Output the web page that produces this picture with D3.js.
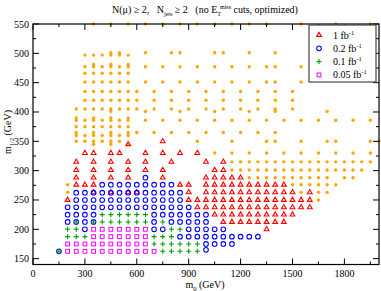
<!DOCTYPE html>
<html>
<head>
<meta charset="utf-8">
<script src="https://cdn.jsdelivr.net/npm/d3@7"></script>
<style>
  body { margin: 0; background: #fff; }
  svg text { font-family: "Liberation Serif", "Times New Roman", serif; fill: #000; }
</style>
</head>
<body>
<script>
// reach in the (m0, m1/2) plane, one list of m0 values per m1/2 row
const noReach = [
  [550, [350,450,550,650,750,850,950,1050,1150,1250,1350,1550,1750,1950]],
  [501, [450,500,650,800,850,1050,1100,1250,1400]],
  [497, [300,350,400,450,500,550]],
  [481, [350,450,550]],
  [477, [300,350,400,450,500,550,650,750,850,950,1050,1150,1250,1350,1400,1550]],
  [466, [300,350,400,450,500,550]],
  [451, [300,350,400,450,500,550,650,750,850,950,1050,1150,1250,1350,1400,1550]],
  [435, [300,350,400,450,500,550,600,700,800,900,1000,1100,1200,1300,1400,1500]],
  [420, [300,350,400,450,500,550,600,700,800,900,1000,1100,1200,1300,1400,1500]],
  [405, [250,300,350,400,450,500,550,600,700,800,900,1000,1100,1200,1300,1400,1500]],
  [401, [450,650,850,1050,1250,1400,1700]],
  [390, [250,350,450,550]],
  [386, [250,300,350,400,450,500,550,650,750,850,950,1050,1150,1250,1350,1450,1550,1650,1750,1850,1950]],
  [375, [250,300,350,400,450,500,550]],
  [365, [250,350,450,550,600,700,800,900,1000,1100,1200,1300,1400]],
  [360, [250,300,350,400,450,500,550]],
  [350, [250,300,350,400,450,500,950,1150,1350,1400,1550,1700,1750,1950,2000]],
  [345, [350,450,550]],
  [330, [1050,1150,1250,1350,1450,1550,1650,1750,1850,1950]],
  [315, [1150,1200,1250,1300,1350,1400,1450,1500,1550,1600,1650,1700,1750,1800,1850,1900,1950]],
  [301, [1150,1200,1250,1300,1350,1400,1450,1500,1550,1600,1650,1700,1750,1800,1850,1900]],
  [288, [1250,1300,1350,1400,1450,1500,1550,1600,1650,1700,1800,1850]],
  [276, [200,1500,1550,1600,1650,1700,1750]],
  [263, [200,1550,1650,1700]],
  [250, [1650]]
];

const lum1 = [
  [350, [750]],
  [345, [550]],
  [330, [300,350,450,500,650,750,850,950]],
  [315, [250,350,450,550,650,800,1000,1100]],
  [301, [250,350,450,550,650,750,1050,1100]],
  [288, [250,350,450,550,750,1000,1050,1100,1150,1200]],
  [276, [250,300,350,850,900,1000,1050,1100,1150,1200,1250,1300,1350,1400,1450]],
  [263, [350,450,550,600,900,1000,1050,1100,1150,1200,1250,1300,1350,1400,1450,1500,1600]],
  [250, [200,900,950,1000,1050,1100,1150,1200,1250,1300,1350,1400,1450,1500,1550,1600]],
  [237.5, [950,1000,1050,1100,1150,1200,1250,1300,1350,1400,1450,1500,1550,1600]],
  [225, [1050,1100,1150,1200,1250,1300,1350,1400,1450,1500]],
  [212.5, [1100,1150,1200,1250,1300,1350,1400,1450]],
  [200, [1350]]
];

const lum02 = [
  [288, [650]],
  [276, [400,450,500,550,600,650,700,750,800]],
  [262.5, [250,300,350,400,450,500,550,600,650,700,750,800,850]],
  [250, [250,300,350,400,450,500,550,600,650,700,750,800,850]],
  [237.5, [200,250,300,350,400,450,500,550,600,650,700,750,800,850,900]],
  [225, [200,250,300,350,700,750,800,850,900,950,1000]],
  [212.5, [200,250,300,350,700,800,850,900,950,1000]],
  [200, [300,700,750,900,950,1000,1050,1100]],
  [187.5, [850,900,950,1000,1050,1100,1150,1200,1250,1300]],
  [175, [1000,1050,1100,1150]],
  [165, [1000]],
  [162.5, [150]]
];

const lum01 = [
  [225, [400,450,500,550,600,650]],
  [212.5, [250,350,400,450,500,550,600,650,750]],
  [200, [200,250,800,850]],
  [187.5, [200,250,300,700,750,800]],
  [175, [700,750,800,850,900,950]],
  [162.5, [150,750,800,850,900,950]]
];

const lum005 = [
  [200, [350,400,450,500,550,600,650]],
  [187.5, [350,400,450,500,550,600,650]],
  [175, [200,250,300,350,400,450,500,550,600,650]],
  [162.5, [200,250,300,350,400,450,500,550,600,650,700]]
];

const xTicks = [0, 300, 600, 900, 1200, 1500, 1800];
const yTicks = [150, 200, 250, 300, 350, 400, 450, 500, 550];
const legendLabels = ["1 fb", "0.2 fb", "0.1 fb", "0.05 fb"];

const width = 381, height = 291;
const svg = d3.select("body").append("svg")
  .attr("width", width).attr("height", height)
  .attr("font-family", "Liberation Serif, serif");

const x = d3.scaleLinear().domain([0, 2000]).range([33, 379]);
const y = d3.scaleLinear().domain([140, 550]).range([264.5, 24]);

const flat = rows => rows.flatMap(([m12, m0s]) => m0s.map(m0 => ({m0, m12})));

// markers
const plot = svg.append("g");

const drawMarker = (sel, kind) => {
  if (kind === "dot") {
    sel.append("circle").attr("r", 1.7).attr("fill", "#ffa500");
  } else if (kind === "tri") {
    sel.append("path").attr("d", d3.symbol(d3.symbolTriangle, 10)())
      .attr("fill", "none").attr("stroke", "#ff0000").attr("stroke-width", 1.1);
  } else if (kind === "circ") {
    sel.append("circle").attr("r", 2.3)
      .attr("fill", "none").attr("stroke", "#0000ff").attr("stroke-width", 1.1);
  } else if (kind === "plus") {
    sel.append("path").attr("d", "M-2.5,0H2.5M0,-2.5V2.5")
      .attr("stroke", "#00a000").attr("stroke-width", 1.1);
  } else {
    sel.append("rect").attr("x", -1.9).attr("y", -1.9).attr("width", 3.8).attr("height", 3.8)
      .attr("fill", "none").attr("stroke", "#ff00ff").attr("stroke-width", 1);
  }
};

[[noReach, "dot"], [lum1, "tri"], [lum02, "circ"], [lum01, "plus"], [lum005, "sq"]]
  .forEach(([rows, kind]) => {
    plot.selectAll(null).data(flat(rows)).enter().append("g")
      .attr("transform", d => `translate(${x(d.m0)},${y(d.m12)})`)
      .each(function() { drawMarker(d3.select(this), kind); });
  });

// frame and ticks (inward, on all four sides)
const xMinor = d3.range(0, 2001, 150).filter(v => v % 300 !== 0);
const yMinor = d3.range(175, 550, 50);

const axes = svg.append("g").attr("stroke", "#000");
const tickLines = (vals, f, len) => vals.forEach(v => f(v, len));

tickLines(xTicks, (v, l) => {
  axes.append("line").attr("x1", x(v)).attr("x2", x(v)).attr("y1", y(140)).attr("y2", y(140) - l);
  axes.append("line").attr("x1", x(v)).attr("x2", x(v)).attr("y1", y(550)).attr("y2", y(550) + l);
}, 6);
tickLines(xMinor, (v, l) => {
  axes.append("line").attr("x1", x(v)).attr("x2", x(v)).attr("y1", y(140)).attr("y2", y(140) - l);
  axes.append("line").attr("x1", x(v)).attr("x2", x(v)).attr("y1", y(550)).attr("y2", y(550) + l);
}, 3);
tickLines(yTicks, (v, l) => {
  axes.append("line").attr("y1", y(v)).attr("y2", y(v)).attr("x1", x(0)).attr("x2", x(0) + l);
  axes.append("line").attr("y1", y(v)).attr("y2", y(v)).attr("x1", x(2000)).attr("x2", x(2000) - l);
}, 6);
tickLines(yMinor, (v, l) => {
  axes.append("line").attr("y1", y(v)).attr("y2", y(v)).attr("x1", x(0)).attr("x2", x(0) + l);
  axes.append("line").attr("y1", y(v)).attr("y2", y(v)).attr("x1", x(2000)).attr("x2", x(2000) - l);
}, 3);
axes.selectAll("line").attr("stroke-width", 1);

svg.append("rect")
  .attr("x", x(0)).attr("y", y(550))
  .attr("width", x(2000) - x(0)).attr("height", y(140) - y(550))
  .attr("fill", "none").attr("stroke", "#000").attr("stroke-width", 1.2);

// tick labels
svg.append("g").selectAll("text").data(xTicks).enter().append("text")
  .attr("x", d => x(d)).attr("y", 277)
  .attr("text-anchor", "middle").attr("font-size", 10)
  .text(d => d);

svg.append("g").selectAll("text").data(yTicks).enter().append("text")
  .attr("x", 29).attr("y", d => y(d) + 3.5)
  .attr("text-anchor", "end").attr("font-size", 10)
  .text(d => d);

// axis titles
const xl = svg.append("text").attr("x", 205).attr("y", 288)
  .attr("text-anchor", "middle").attr("font-size", 10);
xl.append("tspan").text("m");
xl.append("tspan").attr("font-size", 6.5).attr("dy", 2.5).text("0");
xl.append("tspan").attr("dy", -2.5).text(" (GeV)");

const yl = svg.append("text")
  .attr("transform", "translate(11,132) rotate(-90)")
  .attr("text-anchor", "middle").attr("font-size", 10);
yl.append("tspan").text("m");
yl.append("tspan").attr("font-size", 6.5).attr("dy", 2.5).text("1/2");
yl.append("tspan").attr("dy", -2.5).text(" (GeV)");

// title
const t = svg.append("text").attr("x", 205).attr("y", 13)
  .attr("text-anchor", "middle").attr("font-size", 10);
t.append("tspan").text("N(\u03bc) \u2265 2,\u00a0\u00a0 N");
t.append("tspan").attr("font-size", 6).attr("dy", 3).text("jets");
t.append("tspan").attr("dy", -3).text(" \u2265 2\u00a0\u00a0 (no E");
t.append("tspan").attr("font-size", 6).attr("dy", 3).text("T");
t.append("tspan").attr("font-size", 6).attr("dy", -7).attr("dx", -1).text("miss");
t.append("tspan").attr("dy", 4).text(" cuts, optimized)");

// legend
const lg = svg.append("g").attr("transform", "translate(309,25)");
lg.append("rect").attr("width", 67).attr("height", 57)
  .attr("fill", "#fff").attr("stroke", "#444").attr("stroke-width", 1.2);
const kinds = ["tri", "circ", "plus", "sq"];
legendLabels.forEach((lab, i) => {
  const row = lg.append("g").attr("transform", `translate(10,${10 + i * 13.3})`);
  drawMarker(row, kinds[i]);
  const tx = row.append("text").attr("x", 14).attr("y", 3.5).attr("font-size", 10);
  tx.append("tspan").text(lab);
  tx.append("tspan").attr("font-size", 6.5).attr("dy", -4).text("-1");
});
</script>
</body>
</html>
